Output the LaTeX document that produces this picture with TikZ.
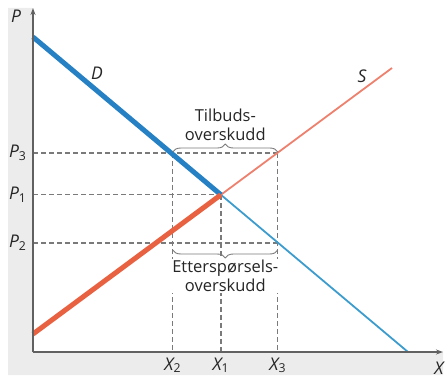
\documentclass[tikz,border=0pt]{standalone}
\usepackage{fontspec}
\setsansfont{Open Sans}
\usetikzlibrary{arrows.meta,calc,decorations.pathreplacing}
\definecolor{MarketPaper}{gray}{0.925}
\definecolor{MarketInk}{gray}{0.15}
\definecolor{MarketAxis}{gray}{0.38}
\definecolor{MarketGuide}{gray}{0.48}
\definecolor{MarketDemand}{RGB}{38,128,196}
\definecolor{MarketDemandLight}{RGB}{60,156,206}
\definecolor{MarketSupply}{RGB}{232,98,66}
\definecolor{MarketSupplyLight}{RGB}{238,128,110}
\newcommand{\lab}[2]{#1\textsubscript{\upshape #2}}
\tikzset{
    market/diagram/.style={
        x=1pt, y=-1pt,
        font=\sffamily\fontsize{16.5}{19}\selectfont,
        text=MarketInk,
        line cap=butt,
        line join=round,
        >=Stealth
    },
    market/axis/.style={
        draw=MarketAxis, line width=1.4pt,
        -{Stealth[length=7pt, width=5pt]}
    },
    market/demand/.style={draw=MarketDemand, line width=5pt},
    market/demandthin/.style={draw=MarketDemandLight, line width=1.8pt},
    market/supply/.style={draw=MarketSupply, line width=5pt},
    market/supplythin/.style={draw=MarketSupplyLight, line width=1.8pt},
    market/guide/.style={
        draw=MarketGuide, line width=1.2pt,
        dash pattern=on 5pt off 3pt
    },
    market/brace/.style={
        draw=MarketGuide, line width=0.9pt,
        decorate, decoration={brace, amplitude=8pt}
    },
    market/note/.style={align=center, inner sep=1pt, fill=white},
    market/label/.style={font=\sffamily\itshape\fontsize{17.5}{19}\selectfont}
}
\begin{document}
\begin{tikzpicture}[market/diagram]
    \useasboundingbox (0,0) rectangle (446,379);
    % light frame behind the axes
    \fill[MarketPaper] (8,8) -- (33,8) -- (33,352) -- (443,352)
        -- (443,375) -- (8,375) -- cycle;
    \coordinate (O) at (33,352);
    \coordinate (Ptop) at (33,8);
    \coordinate (Xend) at (443,352);
    \coordinate (Dstart) at (33,37);
    \coordinate (Dend) at (408,352);
    \coordinate (Sstart) at (33,334);
    \coordinate (Send) at (392,68);
    \coordinate (E) at (220.9,194.8);
    \coordinate (A3) at (33,153);
    \coordinate (A1) at (33,194.8);
    \coordinate (A2) at (33,243);
    \coordinate (B2) at (172.8,153);
    \coordinate (B3) at (277.8,153);
    \coordinate (C3) at (277.8,243);
    \coordinate (C2) at (172.8,243);
    % guide lines
    \draw[market/guide] (A3) -- (B3);
    \draw[market/guide] (A1) -- (E);
    \draw[market/guide] (A2) -- (C3);
    \draw[market/guide] (B2) -- (B2 |- O);
    \draw[market/guide] (E) -- (E |- O);
    \draw[market/guide] (B3) -- (B3 |- O);
    % curves
    \draw[market/demandthin] (E) -- (Dend);
    \draw[market/supplythin] (E) -- (Send);
    \draw[market/demand] (Dstart) -- (E);
    \draw[market/supply] (Sstart) -- (E);
    % braces
    \draw[market/brace] ($(B2)+(0,-1)$) -- ($(B3)+(0,-1)$)
        node[market/note, midway, above=10pt, fill=none] (tilbud) {Tilbuds-\\overskudd};
    \draw[market/brace] ($(C3)+(0,7)$) -- ($(C2)+(0,7)$)
        node[market/note, midway, below=9pt] (etter) {Etterspørsels-\\overskudd};
    % axes
    \draw[market/axis] (O) -- (Ptop);
    \draw[market/axis] (O) -- (Xend);
    \node[market/label] (P) at (16,16) {P};
    \node[market/label] (X) at (439,368) {X};
    \node[market/label] (D) at (97,73) {D};
    \node[market/label] (S) at (362,76) {S};
    \node[market/label, left=3pt] (p3) at (A3) {\lab{P}{3}};
    \node[market/label, left=3pt] (p1) at (A1) {\lab{P}{1}};
    \node[market/label, left=3pt] (p2) at (A2) {\lab{P}{2}};
    \node[market/label, below=2pt] (x2) at (B2 |- O) {\lab{X}{2}};
    \node[market/label, below=2pt] (x1) at (E |- O) {\lab{X}{1}};
    \node[market/label, below=2pt] (x3) at (B3 |- O) {\lab{X}{3}};
\end{tikzpicture}
\end{document}
